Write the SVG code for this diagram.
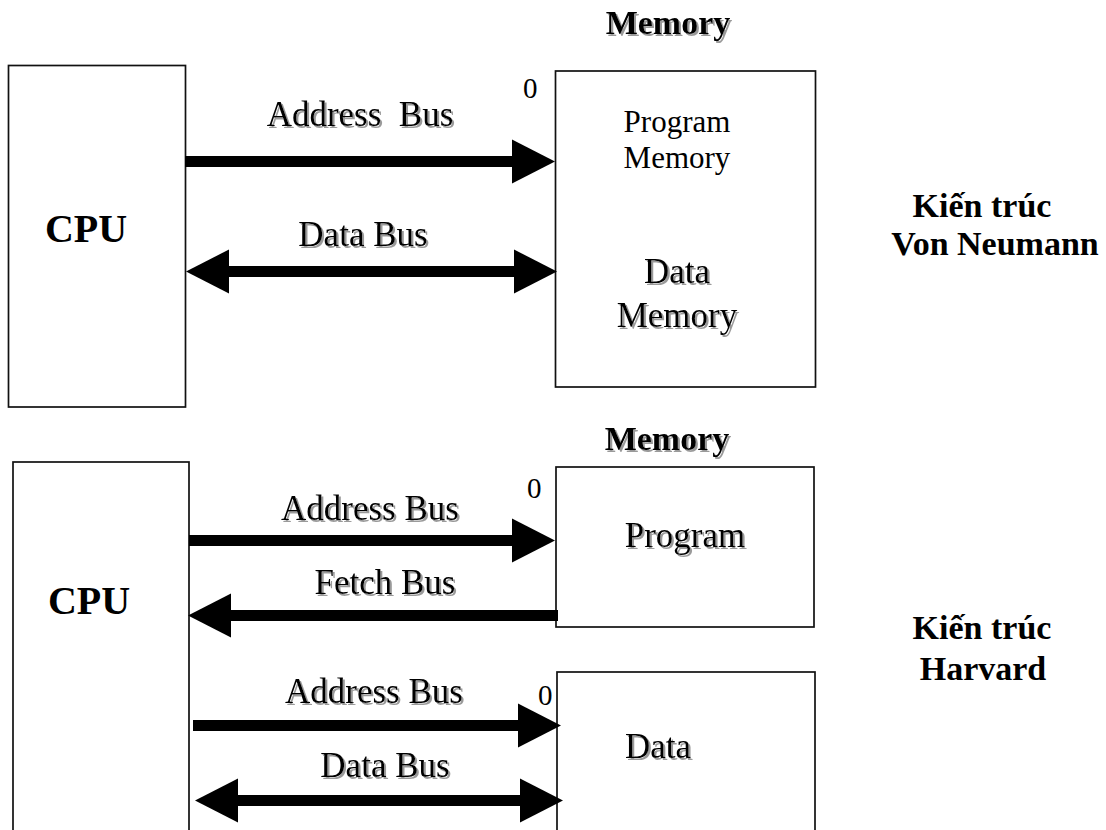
<svg xmlns="http://www.w3.org/2000/svg" width="1106" height="830" viewBox="0 0 1106 830">
  <defs>
    <style>
      .box { fill: #ffffff; stroke: #111111; stroke-width: 1.7; }
      .bus { stroke: #000000; stroke-width: 11; fill: none; }
      .t { font-family: "Liberation Serif", "Times New Roman", serif; fill: #000000; }
      .lbl { font-size: 35px; }
      .inner { font-size: 31px; }
      .big { font-size: 34px; }
      .num { font-size: 29px; }
      .b { font-weight: bold; }
      .sh { filter: url(#shadow); }
      .mid { text-anchor: middle; }
    </style>
    <filter id="shadow" x="-10%" y="-20%" width="130%" height="150%">
      <feDropShadow dx="2" dy="2" stdDeviation="0.6" flood-color="#9a9a9a" flood-opacity="1"/>
    </filter>
    <!-- solid triangular head, base at the line end -->
    <marker id="head" markerUnits="userSpaceOnUse" markerWidth="44" markerHeight="44"
            viewBox="0 0 44 44" refX="0" refY="22" orient="auto-start-reverse" overflow="visible">
      <path d="M0,0 L43,22 L0,44 Z" fill="#000000"/>
    </marker>
  </defs>

  <rect width="1106" height="830" fill="#ffffff"/>

  <!-- ===== Von Neumann ===== -->
  <g id="vn-cpu">
    <rect class="box" x="8.5" y="65.5" width="177" height="341.5"/>
    <text class="t b mid" x="86" y="242" font-size="40">CPU</text>
  </g>

  <g id="vn-memory">
    <text class="t b big mid sh" x="668" y="34">Memory</text>
    <text class="t num" x="523" y="98">0</text>
    <rect class="box" x="555.5" y="71" width="260" height="316"/>
    <text class="t inner mid" x="677" y="132">Program</text>
    <text class="t inner mid" x="677" y="168">Memory</text>
    <text class="t lbl mid sh" x="677" y="283">Data</text>
    <text class="t lbl mid sh" x="677" y="327">Memory</text>
  </g>

  <g id="vn-title">
    <text class="t b big mid" x="982" y="217">Kiến trúc</text>
    <text class="t b big mid" x="995" y="255">Von Neumann</text>
  </g>

  <!-- ===== Harvard ===== -->
  <g id="hv-cpu">
    <rect class="box" x="13" y="462" width="176" height="380"/>
    <text class="t b mid" x="89" y="614" font-size="40">CPU</text>
  </g>

  <g id="hv-program">
    <text class="t b big mid sh" x="667" y="450">Memory</text>
    <text class="t num" x="527" y="498">0</text>
    <rect class="box" x="556" y="467" width="258" height="160"/>
    <text class="t lbl mid sh" x="685" y="547">Program</text>
  </g>

  <g id="hv-data">
    <text class="t num" x="538" y="705">0</text>
    <rect class="box" x="557" y="672" width="258" height="170"/>
    <text class="t lbl mid sh" x="658" y="758">Data</text>
  </g>

  <g id="hv-title">
    <text class="t b big mid" x="982" y="639">Kiến trúc</text>
    <text class="t b big mid" x="983" y="680">Harvard</text>
  </g>

  <!-- ===== buses ===== -->
  <g id="connectors">
    <line class="bus" x1="185" y1="161.5" x2="512" y2="161.5" marker-end="url(#head)"/>
    <line class="bus" x1="229" y1="271.5" x2="514" y2="271.5" marker-start="url(#head)" marker-end="url(#head)"/>
    <line class="bus" x1="189" y1="540.5" x2="512" y2="540.5" marker-end="url(#head)"/>
    <line class="bus" x1="558" y1="615.5" x2="231" y2="615.5" marker-end="url(#head)"/>
    <line class="bus" x1="193" y1="725.5" x2="518" y2="725.5" marker-end="url(#head)"/>
    <line class="bus" x1="238" y1="800.5" x2="520" y2="800.5" marker-start="url(#head)" marker-end="url(#head)"/>
  </g>

  <g id="bus-labels">
    <text class="t lbl mid sh" x="360" y="126" xml:space="preserve">Address  Bus</text>
    <text class="t lbl mid sh" x="363" y="246">Data Bus</text>
    <text class="t lbl mid sh" x="370" y="520">Address Bus</text>
    <text class="t lbl mid sh" x="385" y="594">Fetch Bus</text>
    <text class="t lbl mid sh" x="374" y="703">Address Bus</text>
    <text class="t lbl mid sh" x="385" y="777">Data Bus</text>
  </g>
</svg>
